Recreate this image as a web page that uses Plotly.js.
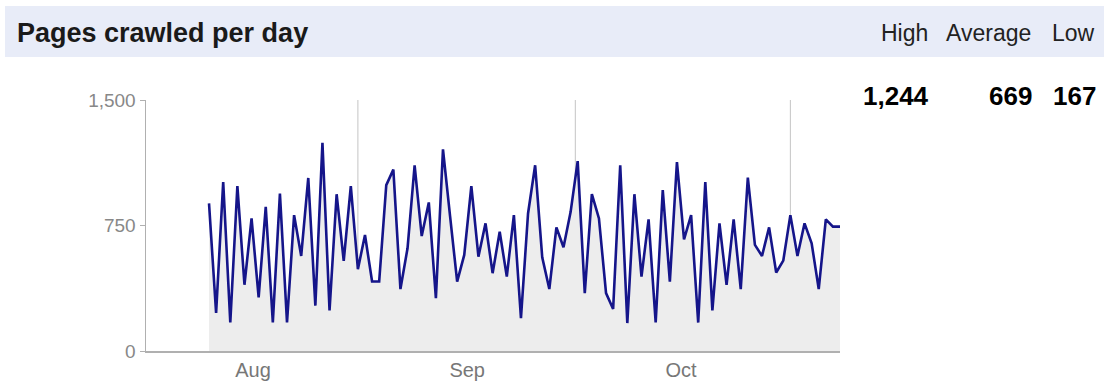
<!DOCTYPE html>
<html>
<head>
<meta charset="utf-8">
<script src="https://cdn.plot.ly/plotly-3.0.1.min.js"></script>
<style>
  html, body { margin: 0; padding: 0; background: #ffffff; }
  #chart { width: 1104px; height: 381px; }
</style>
</head>
<body>
<div id="chart"></div>
<script>
// ---- data ----
const startDate = '2010-08-11';
const pagesCrawled = [
  882, 227, 1010, 171, 985, 396, 792, 320, 862, 171,
  941, 171, 812, 568, 1034, 271, 1244, 243, 937, 538,
  985, 489, 693, 415, 415, 991, 1084, 370, 614, 1110,
  687, 888, 316, 1205, 806, 415, 574, 985, 564, 763,
  465, 713, 445, 812, 197, 822, 1110, 560, 370, 739,
  620, 830, 1135, 346, 937, 792, 346, 251, 1110, 167,
  937, 445, 787, 171, 961, 415, 1129, 667, 812, 170,
  1010, 243, 763, 396, 787, 370, 1036, 634, 568, 739,
  469, 540, 812, 568, 763, 644, 370, 787, 743, 743
];
const monthLabels = ['Aug', 'Sep', 'Oct'];
const monthLabelDates = ['2010-08-17 05:00', '2010-09-16 10:00', '2010-10-16 14:00'];
const monthStarts = ['2010-09-01', '2010-10-01 16:00', '2010-11-01'];
const yTickVals = [0, 750, 1500];
const yTickText = ['0', '750', '1,500'];
const summaryHeaders = ['High', 'Average', 'Low'];
const summaryValues = ['1,244', '669', '167'];
const chartTitle = 'Pages crawled per day';

// daily dates for each value
const dates = pagesCrawled.map((_, i) => {
  const d = new Date(startDate + 'T00:00:00Z');
  d.setUTCDate(d.getUTCDate() + i);
  return d.toISOString().slice(0, 10);
});

// ---- layout helpers (pixel -> paper) ----
const W = 1104, H = 381;
const M = { l: 146, r: 264, t: 100, b: 30 };
const pw = W - M.l - M.r, ph = H - M.t - M.b;
const px = x => (x - M.l) / pw;
const py = y => (H - M.b - y) / ph;

const FONT = 'Arial, "Liberation Sans", sans-serif';

const trace = {
  type: 'scatter',
  mode: 'lines',
  x: dates,
  y: pagesCrawled,
  line: { color: '#15158a', width: 2.6, shape: 'linear' },
  fill: 'tozeroy',
  fillcolor: '#ededed',
  hoverinfo: 'x+y'
};

const shapes = [
  { type: 'rect', xref: 'paper', yref: 'paper', x0: px(5), x1: px(1104), y0: py(57), y1: py(6),
    fillcolor: '#e8ecf8', line: { width: 0 }, layer: 'below' }
].concat(monthStarts.map(d => ({
  type: 'line', xref: 'x', yref: 'y', x0: d, x1: d, y0: 0, y1: 1500,
  line: { color: '#c4c4c4', width: 1 }, layer: 'below'
})));

const headerRight = [930, 1033, 1097];
const annotations = [
  { text: chartTitle, xref: 'paper', yref: 'paper', x: px(15), y: py(33),
    xanchor: 'left', yanchor: 'middle', showarrow: false,
    font: { family: FONT, size: 27, color: '#1a1a1a', weight: 'bold' } }
];
summaryHeaders.forEach((t, i) => annotations.push({
  text: t, xref: 'paper', yref: 'paper', x: px(headerRight[i]), y: py(33),
  xanchor: 'right', yanchor: 'middle', showarrow: false,
  font: { family: FONT, size: 23, color: '#222222' }
}));
summaryValues.forEach((t, i) => annotations.push({
  text: '<b>' + t + '</b>', xref: 'paper', yref: 'paper', x: px(headerRight[i] + 1), y: py(96),
  xanchor: 'right', yanchor: 'middle', showarrow: false,
  font: { family: FONT, size: 26, color: '#000000' }
}));

const layout = {
  width: W, height: H,
  margin: { l: M.l, r: M.r, t: M.t, b: M.b, pad: 0 },
  paper_bgcolor: '#ffffff',
  plot_bgcolor: '#ffffff',
  showlegend: false,
  font: { family: FONT },
  xaxis: {
    type: 'date',
    range: ['2010-08-02 02:40', '2010-11-08'],
    tickmode: 'array',
    tickvals: monthLabelDates,
    ticktext: monthLabels,
    ticks: '',
    showgrid: false,
    zeroline: false,
    showline: true,
    linecolor: '#b0b0b0',
    linewidth: 1.5,
    tickfont: { family: FONT, size: 20, color: '#777777' },
    fixedrange: true
  },
  yaxis: {
    range: [0, 1500],
    tickmode: 'array',
    tickvals: yTickVals,
    ticktext: yTickText,
    ticks: 'outside',
    ticklen: 5,
    tickcolor: '#b0b0b0',
    showgrid: false,
    zeroline: false,
    showline: true,
    linecolor: '#b0b0b0',
    linewidth: 1.5,
    tickfont: { family: FONT, size: 19, color: '#888888' },
    fixedrange: true
  },
  shapes: shapes,
  annotations: annotations
};

Plotly.newPlot('chart', [trace], layout, { displayModeBar: false, staticPlot: true });
</script>
</body>
</html>
